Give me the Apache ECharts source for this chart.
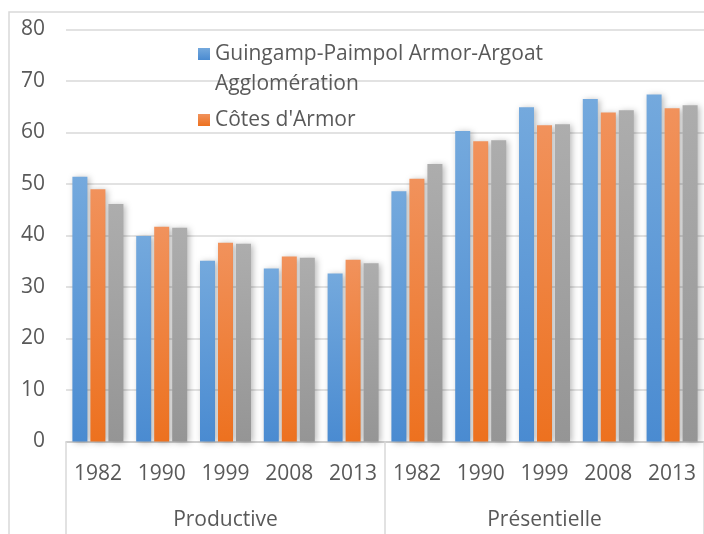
<!DOCTYPE html>
<html lang="fr">
<head>
<meta charset="UTF-8" />
<script src="https://cdn.jsdelivr.net/npm/echarts@6/dist/echarts.min.js"></script>
<style>
html,body{margin:0;padding:0;background:#fff;}
#main{width:704px;height:534px;}
</style>
</head>
<body>
<div id="main"></div>
<script type="text/javascript">
// donnees
var years = ['1982','1990','1999','2008','2013','1982','1990','1999','2008','2013'];
var groups = ['Productive','Présentielle'];
var nameGuingamp = 'Guingamp-Paimpol Armor-Argoat Agglomération';
var nameCotes = "Côtes d'Armor";
var nameThird = 'Bretagne';
var valGuingamp = [51.4, 39.9, 35.1, 33.6, 32.6, 48.6, 60.3, 64.9, 66.5, 67.4];
var valCotes    = [49.0, 41.7, 38.6, 35.9, 35.3, 51.0, 58.3, 61.4, 63.9, 64.7];
var valThird    = [46.1, 41.5, 38.4, 35.7, 34.6, 53.9, 58.5, 61.6, 64.3, 65.3];
var yTicks = [0, 10, 20, 30, 40, 50, 60, 70, 80];

var txt = '#595959';
var grid = '#d9d9d9';
var font = '"Open Sans", sans-serif';
var fs = 21;

function grad(top, bot){
	return {type:'linear', x:0, y:0, x2:0, y2:1, colorStops:[{offset:0, color:top},{offset:1, color:bot}]};
}
function bar(name, data, top, bot){
	return {
		name:name, type:'bar', data:data, barWidth:15, barGap:'20%',
		xAxisIndex:0, yAxisIndex:0,
		itemStyle:{color:grad(top, bot), shadowBlur:6, shadowColor:'rgba(0,0,0,0.28)', shadowOffsetX:2, shadowOffsetY:1},
		emphasis:{disabled:true}
	};
}

var myChart = echarts.init(document.getElementById('main'));
myChart.setOption({
	animation:false,
	textStyle:{fontFamily:font},
	graphic:[{type:'rect', shape:{x:9, y:12, width:740, height:560}, style:{fill:'none', stroke:grid, lineWidth:1.5}, silent:true}],
	grid:{left:66, right:0, top:29.5, bottom:92.5},
	legend:[{
		data:[nameGuingamp], orient:'vertical', left:193, top:4,
		icon:'rect', itemWidth:12, itemHeight:12,
		// ligne vide en tete pour caler le carre sur la 1ere ligne
		formatter:function(){ return ' \nGuingamp-Paimpol Armor-Argoat\nAgglomération'; },
		textStyle:{color:txt, fontSize:fs, fontFamily:font, lineHeight:30}
	},{
		data:[nameCotes], orient:'vertical', left:193, top:100,
		icon:'rect', itemWidth:12, itemHeight:12,
		textStyle:{color:txt, fontSize:fs, fontFamily:font, lineHeight:30}
	}],
	xAxis:[{
		type:'category', data:years, position:'bottom',
		axisLine:{lineStyle:{color:'#c8c8c8', width:1.5}},
		axisTick:{show:false},
		axisLabel:{color:txt, fontSize:fs, fontFamily:font, margin:22, interval:0}
	},{
		type:'category', data:groups, position:'bottom',
		axisLine:{show:false},
		axisTick:{show:true, length:93, interval:0, lineStyle:{color:grid, width:1.5}},
		axisLabel:{color:txt, fontSize:fs, fontFamily:font, margin:68, interval:0}
	}],
	yAxis:{
		type:'value', min:yTicks[0], max:yTicks[yTicks.length-1], interval:10,
		axisLine:{show:false}, axisTick:{show:false},
		axisLabel:{color:txt, fontSize:fs, fontFamily:font, margin:21},
		splitLine:{lineStyle:{color:grid, width:1.5}}
	},
	series:[
		bar(nameGuingamp, valGuingamp, '#74a9dd', '#4a8bd1'),
		bar(nameCotes, valCotes, '#f1925c', '#ed711f'),
		bar(nameThird, valThird, '#adadad', '#959595')
	]
});
</script>
</body>
</html>
